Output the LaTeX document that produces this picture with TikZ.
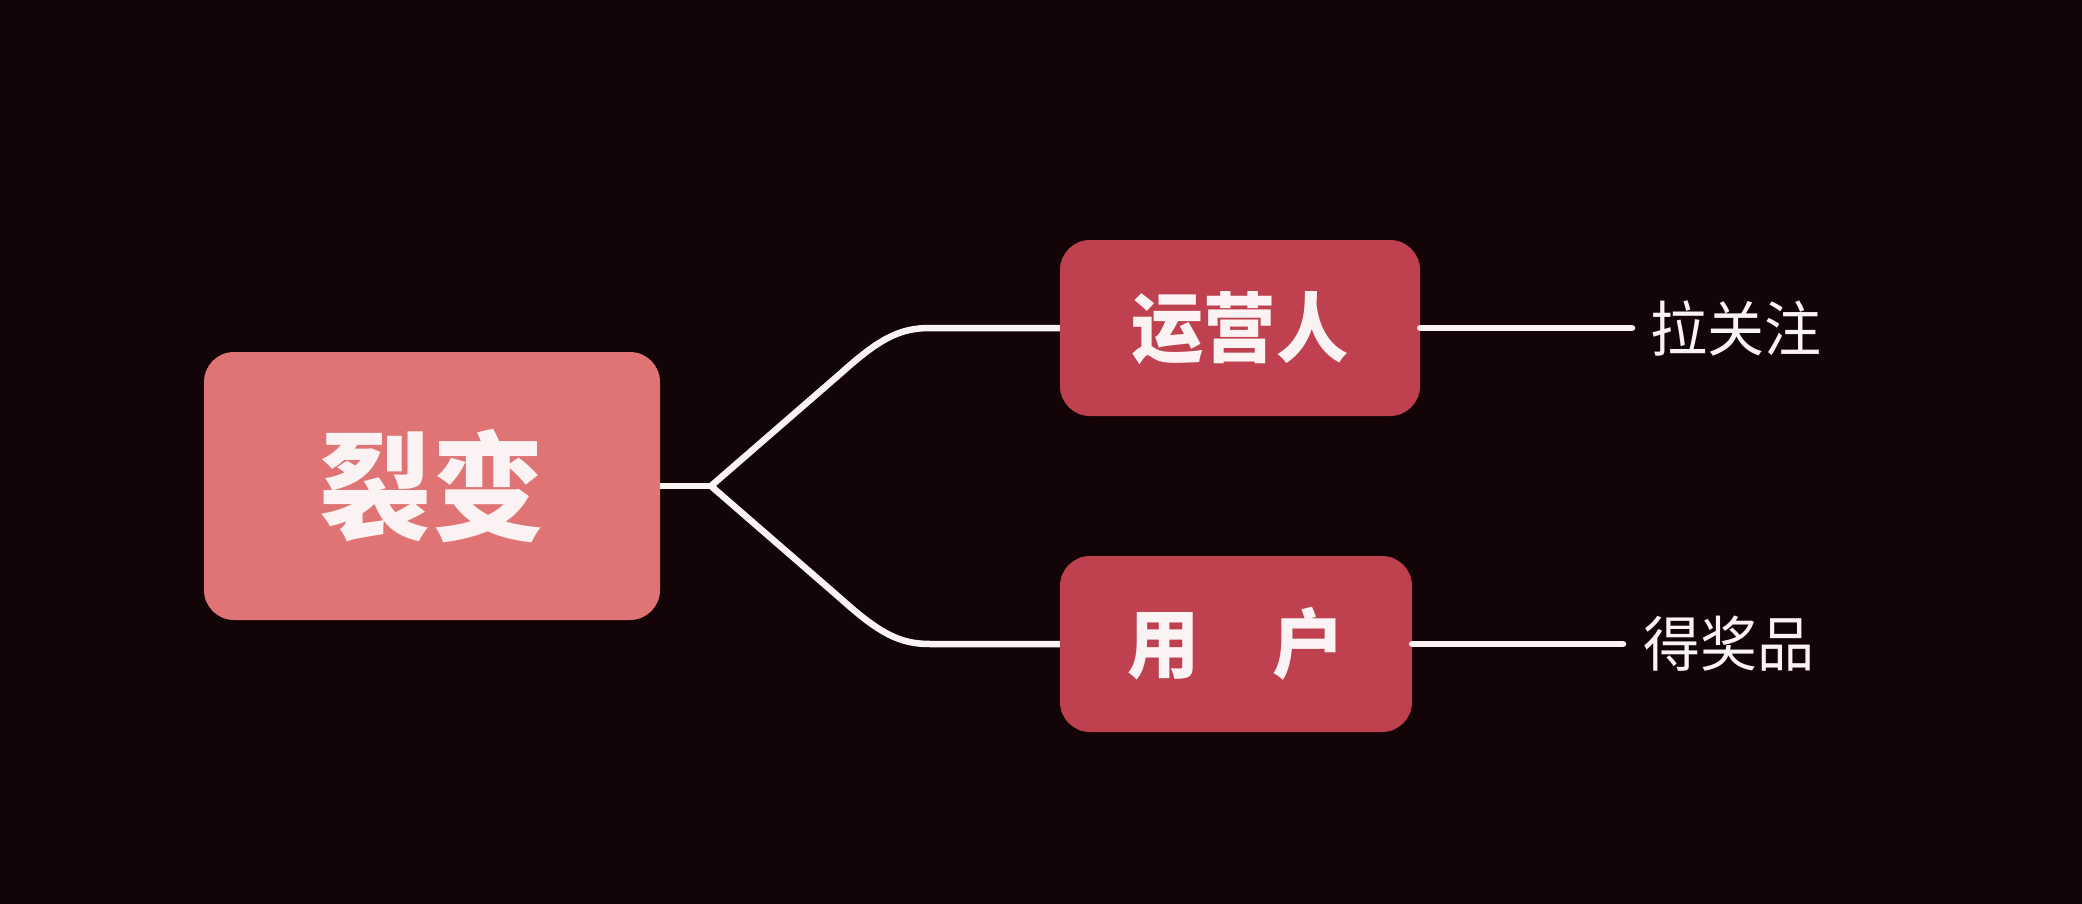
\documentclass[tikz,border=0pt]{standalone}
\usepackage{fontspec}
\usepackage{xcolor}
\usepackage{tikz}
\usetikzlibrary{positioning,calc}
\newfontfamily\cjk[FakeStretch=0.95]{Noto Sans CJK SC}
\definecolor{bgdark}{HTML}{120407}
\definecolor{rootred}{HTML}{E07474}
\definecolor{subred}{HTML}{BF404E}
\definecolor{inkwhite}{HTML}{FAF2F3}

\begin{document}
\begin{tikzpicture}[x=1pt,y=-1pt,
    box/.style={rounded corners=30pt,inner sep=0pt,text=inkwhite,font=\cjk\bfseries},
    wire/.style={draw=inkwhite,line width=6.5pt},
    leaf/.style={anchor=west,inner sep=0pt,text=inkwhite,font=\cjk\fontsize{60}{64}\selectfont}]
    % Background
    \fill[bgdark] (0,0) rectangle (2082,904);
    \useasboundingbox (0,0) rectangle (2082,904);

    % Root box
    \node[box,fill=rootred,minimum width=456pt,minimum height=268pt] (root) at (432,486)
        {\fontsize{118}{120}\selectfont 裂变};

    % Branch boxes
    \node[box,fill=subred,minimum width=360pt,minimum height=176pt] (yunying) at (1240,328)
        {\fontsize{76}{80}\selectfont 运营人};
    \node[box,fill=subred,minimum width=352pt,minimum height=176pt] (yonghu) at (1236,644)
        {\fontsize{76}{80}\selectfont 用　户};

    % Fork
    \coordinate (fork) at (711,486);
    \draw[wire] (root.east) -- (fork);
    \draw[wire,line join=round] (fork) -- (840,374) .. controls (880,338) and (900,328) .. (930,328) -- (yunying.west);
    \draw[wire,line join=round] (fork) -- (840,598) .. controls (880,634) and (900,644) .. (930,644) -- (yonghu.west);

    % Leaves
    \coordinate (endA) at (1632,328);
    \coordinate (endB) at (1623,644);
    \draw[wire,line cap=round] (yunying.east) -- (endA);
    \draw[wire,line cap=round] (yonghu.east) -- (endB);
    \node[leaf] (guanzhu) at (1650,328) {拉关注};
    \node[leaf] (jiangpin) at (1643,644) {得奖品};
\end{tikzpicture}
\end{document}
